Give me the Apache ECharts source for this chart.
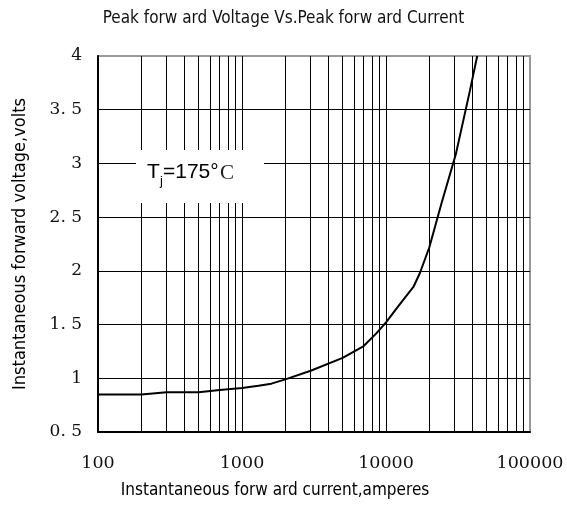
<!DOCTYPE html>
<html>
<head>
<meta charset="utf-8">
<script src="https://cdn.jsdelivr.net/npm/echarts@6/dist/echarts.min.js"></script>
<style>html,body{margin:0;padding:0;background:#fff}#c{width:567px;height:506px}</style>
</head>
<body>
<div id="c"></div>
<script>
const current = [100, 200, 300, 500, 700, 1000, 1300, 1600, 2000, 3000, 5000, 7000, 8600, 10000, 12000, 15500, 17200, 20000, 24300, 30600, 38300, 43000];
const voltage = [0.85, 0.85, 0.87, 0.87, 0.89, 0.91, 0.93, 0.95, 0.99, 1.07, 1.19, 1.30, 1.42, 1.52, 1.66, 1.85, 1.98, 2.22, 2.63, 3.09, 3.68, 4.0];
const minorGrid = [200, 300, 400, 500, 600, 700, 800, 900, 2000, 3000, 4000, 5000, 6000, 7000, 8000, 9000, 20000, 30000, 40000, 50000, 60000, 70000, 80000, 90000];
const titleText = 'Peak forw ard Voltage Vs.Peak forw ard Current';
const xName = 'Instantaneous forw ard current,amperes';
const yName = 'Instantaneous forward voltage,volts';

const sans = '"Liberation Sans Narrow", "DejaVu Sans Condensed", "Liberation Sans", sans-serif';
const chart = echarts.init(document.getElementById('c'), null, {renderer: 'canvas'});
chart.setOption({
  animation: false,
  backgroundColor: '#fff',
  title: {
    text: titleText, left: 'center', top: 5,
    textStyle: {fontFamily: sans, fontSize: 17, fontWeight: 'normal', color: '#111'}
  },
  grid: {left: 98, right: 37, top: 56, bottom: 74, show: true, borderColor: '#999', borderWidth: 2,
    containLabel: false, outerBoundsMode: 'none'},
  xAxis: {
    type: 'log', logBase: 10, min: 100, max: 100000,
    name: xName, nameLocation: 'middle', nameGap: 50,
    nameTextStyle: {fontFamily: sans, fontSize: 17, color: '#000', padding: [0, 78, 0, 0]},
    axisLine: {show: true, lineStyle: {color: '#000', width: 2}},
    axisTick: {show: false},
    axisLabel: {fontFamily: '"DejaVu Serif", serif', fontSize: 17.5, color: '#111', margin: 22,
      formatter: v => String(Math.round(v))},
    splitLine: {show: true, lineStyle: {color: ['#000', '#000', '#000', '#999'], width: 1}},
    minorTick: {show: false}
  },
  yAxis: {
    type: 'value', min: 0.5, max: 4, interval: 0.5,
    name: yName, nameLocation: 'middle', nameGap: 69,
    nameTextStyle: {fontFamily: sans, fontSize: 18, color: '#000'},
    axisLine: {show: true, lineStyle: {color: '#000', width: 2}},
    axisTick: {show: false},
    axisLabel: {fontFamily: '"DejaVu Serif", serif', fontSize: 17, color: '#111', margin: 16,
      formatter: v => (Number.isInteger(v) ? String(v) : v.toFixed(1).replace('.', '. '))},
    splitLine: {show: true, lineStyle: {color: ['#000', '#000', '#000', '#000', '#000', '#000', '#000', '#999'], width: 1}}
  },
  series: [{
    type: 'line',
    data: current.map((c, i) => [c, voltage[i]]),
    showSymbol: false,
    smooth: false,
    clip: true,
    lineStyle: {color: '#000', width: 2},
    z: 5,
    markLine: {
      silent: true, symbol: 'none', animation: false,
      label: {show: false},
      lineStyle: {color: '#000', width: 1, type: 'solid'},
      data: minorGrid.map(v => ({xAxis: v}))
    }
  }],
  graphic: [
    {type: 'rect', z: 100, zlevel: 0, shape: {x: 136, y: 150, width: 128, height: 53}, style: {fill: '#fff'}},
    {type: 'text', z: 101, x: 147, y: 172, style: {text: 'T', font: '21px "Liberation Sans", sans-serif', fill: '#000', verticalAlign: 'middle'}},
    {type: 'text', z: 101, x: 160, y: 181, style: {text: 'j', font: '13px "Liberation Sans", sans-serif', fill: '#000', verticalAlign: 'middle'}},
    {type: 'text', z: 101, x: 163, y: 172, style: {text: '=175°', font: '21px "Liberation Sans", sans-serif', fill: '#000', verticalAlign: 'middle'}},
    {type: 'text', z: 101, x: 220, y: 173, style: {text: 'C', font: '21px "Liberation Serif", serif', fill: '#222', verticalAlign: 'middle'}}
  ]
});
</script>
</body>
</html>
